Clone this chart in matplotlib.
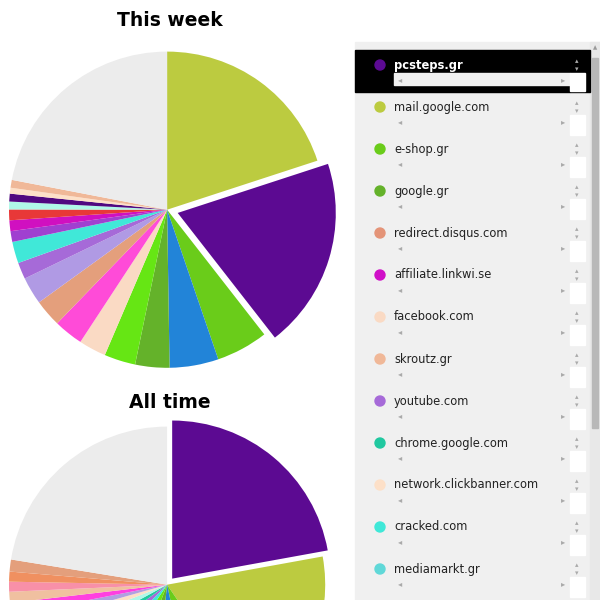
import matplotlib
matplotlib.use('Agg')
import matplotlib.pyplot as plt
from matplotlib.patches import Rectangle, Circle

# this week (percent, clockwise from 12 o'clock)
week_vals = [20, 19.5, 5.3, 5, 3.5, 3.2, 2.8, 3, 2.8, 2.8, 1.7, 2.2, 1.1, 1.1, 1.1, 0.8, 0.8, 0.6, 0.8, 22]
week_cols = ['#bccb40', '#5c0a92', '#6acc1a', '#2284d8', '#64b22a', '#66e614', '#fadac4', '#ff4bd8',
             '#e49f7c', '#b09ae4', '#a66ad8', '#40e8d8', '#a040d0', '#d010c0', '#e83838', '#b0f8e8',
             '#500880', '#fde0c8', '#f0b898', '#ececec']
week_explode = [0, 0.07] + [0] * 18

# all time
all_vals = [21.7, 18, 6, 5, 4, 3.5, 3, 2.5, 2, 2, 1.5, 1.3, 1.2, 1.1, 1.0, 1.0, 1.2, 22]
all_cols = ['#5c0a92', '#bccb40', '#6acc1a', '#2284d8', '#64b22a', '#66e614', '#40e8d8', '#a66ad8',
            '#20c8a0', '#b0f8e8', '#fde0c8', '#b0a0e0', '#ff40e0', '#f0c0a0', '#f890a8', '#f09060',
            '#e49f7c', '#ececec']
all_explode = [0.05] + [0] * 17

legend_names = ['pcsteps.gr', 'mail.google.com', 'e-shop.gr', 'google.gr', 'redirect.disqus.com',
                'affiliate.linkwi.se', 'facebook.com', 'skroutz.gr', 'youtube.com', 'chrome.google.com',
                'network.clickbanner.com', 'cracked.com', 'mediamarkt.gr']
legend_cols = ['#5c0a92', '#bccb40', '#6acc1a', '#64b22a', '#e49478', '#d010c8', '#fadac4', '#f0b898',
               '#a66ad8', '#20c8a0', '#fde0c8', '#40e8d8', '#60d8d8']

fig = plt.figure(figsize=(6, 6), dpi=100)

ax1 = fig.add_axes([0.015, 0.387, 0.527, 0.527])
ax1.pie(week_vals, colors=week_cols, explode=week_explode, startangle=90, counterclock=False,
        wedgeprops=dict(linewidth=0))
ax1.set_xlim(-1, 1); ax1.set_ylim(-1, 1); ax1.axis('off')

ax2 = fig.add_axes([0.015, -0.238, 0.527, 0.527])
ax2.pie(all_vals, colors=all_cols, explode=all_explode, startangle=90, counterclock=False,
        wedgeprops=dict(linewidth=0))
ax2.set_xlim(-1, 1); ax2.set_ylim(-1, 1); ax2.axis('off')

fig.text(170 / 600, 1 - 20 / 600, 'This week', ha='center', va='center', fontsize=13.5, fontweight='bold')
fig.text(170 / 600, 1 - 402 / 600, 'All time', ha='center', va='center', fontsize=13.5, fontweight='bold')

def px(x, y, w, h, **kw):
    fig.patches.append(Rectangle((x / 600, 1 - (y + h) / 600), w / 600, h / 600,
                                 transform=fig.transFigure, **kw))

# legend panel
px(355, 42, 245, 558, color='#f0f0f0')
px(590, 42, 10, 558, color='#e8e8e8')
px(592, 58, 6, 370, color='#b8b8b8')
fig.text(595 / 600, 1 - 48 / 600, '▲', fontsize=4, color='#999999', ha='center', va='center')
for i, (name, col) in enumerate(zip(legend_names, legend_cols)):
    y = 65 + 42 * i
    first = i == 0
    if first:
        px(355, y - 15, 235, 42, color='black')
        px(394, y + 8, 176, 12, color='#f0f0f0')
    px(570, y + 8, 15, 20 if not first else 18, color='white')
    fig.patches.append(Circle((380 / 600, 1 - y / 600), 5 / 600, color=col, transform=fig.transFigure))
    fig.text(394 / 600, 1 - y / 600, name, fontsize=8.3, va='center',
             color='white' if first else '#222222', fontweight='bold' if first else 'normal')
    fig.text(400 / 600, 1 - (y + 15) / 600, '◂', fontsize=6, color='#aaaaaa', ha='center', va='center')
    fig.text(563 / 600, 1 - (y + 15) / 600, '▸', fontsize=6, color='#aaaaaa', ha='center', va='center')
    fig.text(577 / 600, 1 - (y - 4) / 600, '▴', fontsize=5, color='#aaaaaa', ha='center', va='center')
    fig.text(577 / 600, 1 - (y + 4) / 600, '▾', fontsize=5, color='#aaaaaa', ha='center', va='center')

fig.savefig('out.png', dpi=100)
